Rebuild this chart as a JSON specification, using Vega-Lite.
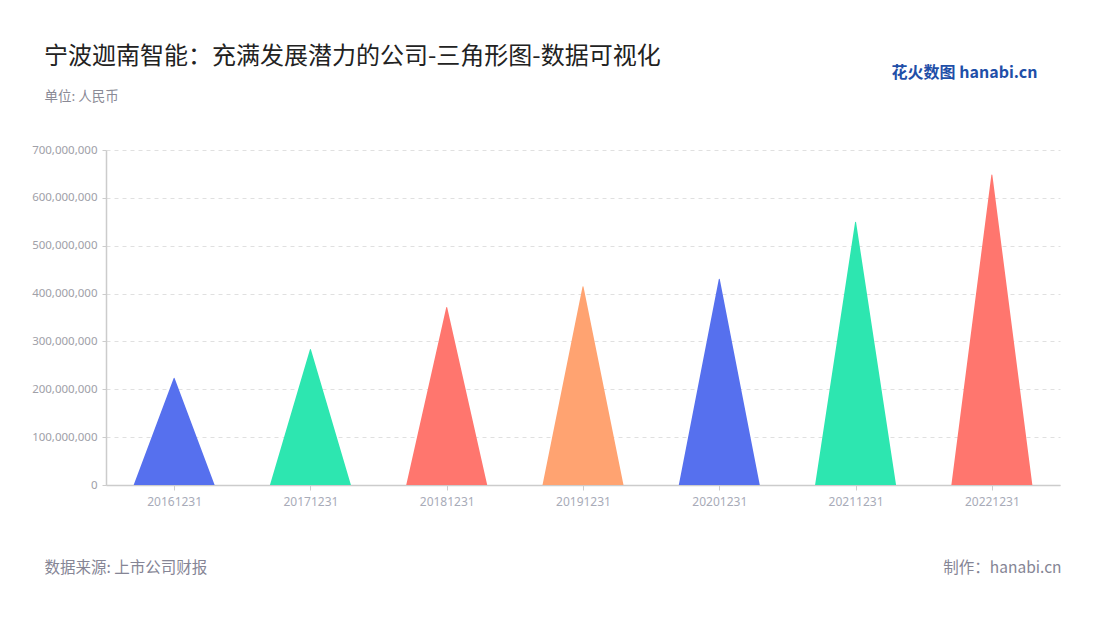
{
  "$schema": "https://vega.github.io/schema/vega-lite/v6.json",
  "width": 954,
  "height": 335,
  "autosize": {"type": "none"},
  "padding": {"left": 106, "top": 150, "right": 40, "bottom": 135},
  "background": "white",
  "config": {
    "view": {"stroke": null},
    "font": "Noto Sans CJK SC"
  },
  "title": {
    "text": "宁波迦南智能：充满发展潜力的公司-三角形图-数据可视化",
    "anchor": "start",
    "frame": "group",
    "dx": -62,
    "dy": 5,
    "offset": 0,
    "fontSize": 24,
    "fontWeight": "normal",
    "color": "#222222",
    "font": "Noto Sans CJK SC"
  },
  "data": {
    "values": [
      {"date": "20161231", "value": 223000000},
      {"date": "20171231", "value": 283000000},
      {"date": "20181231", "value": 371000000},
      {"date": "20191231", "value": 414000000},
      {"date": "20201231", "value": 430000000},
      {"date": "20211231", "value": 549000000},
      {"date": "20221231", "value": 648000000}
    ]
  },
  "layer": [
    {
      "transform": [
        {"calculate": "0", "as": "base"},
        {"fold": ["base", "value"], "as": ["end", "amount"]}
      ],
      "mark": {"type": "trail", "clip": true},
      "encoding": {
        "x": {
          "field": "date",
          "type": "ordinal",
          "sort": null,
          "scale": {"type": "point", "padding": 0.5},
          "axis": {
            "labelAngle": 0,
            "labelColor": "#a8abb8",
            "labelFont": "Noto Sans",
            "labelFontSize": 12,
            "labelPadding": 6,
            "domainColor": "#cccccc",
            "domainWidth": 1.5,
            "tickColor": "#cccccc",
            "tickSize": 5,
            "title": "数据来源: 上市公司财报",
            "titleX": -62,
            "titleY": 82,
            "titleAlign": "left",
            "titleAnchor": null,
            "titleBaseline": "middle",
            "titleFontSize": 15.5,
            "titleFontWeight": "normal",
            "titleColor": "#858595",
            "titleFont": "Noto Sans CJK SC"
          }
        },
        "y": {
          "field": "amount",
          "type": "quantitative",
          "scale": {"domain": [0, 700000000], "nice": false},
          "axis": {
            "values": [0, 100000000, 200000000, 300000000, 400000000, 500000000, 600000000, 700000000],
            "format": ",d",
            "labelColor": "#a0a0a8",
            "labelFont": "Noto Sans",
            "labelFontSize": 11.5,
            "labelPadding": 5,
            "domainColor": "#cccccc",
            "domainWidth": 1.5,
            "tickColor": "#cccccc",
            "tickSize": 4,
            "grid": true,
            "gridColor": "#e0e0e0",
            "gridDash": [4, 4],
            "gridWidth": 1,
            "title": "单位: 人民币",
            "titleAngle": 0,
            "titleX": -62,
            "titleY": -54,
            "titleAlign": "left",
            "titleAnchor": null,
            "titleBaseline": "middle",
            "titleFontSize": 13.5,
            "titleFontWeight": "normal",
            "titleColor": "#8a8a96",
            "titleFont": "Noto Sans CJK SC"
          }
        },
        "size": {
          "condition": {"test": "datum.end === 'base'", "value": 81},
          "value": 0
        },
        "color": {
          "field": "date",
          "type": "nominal",
          "scale": {
            "domain": ["20161231", "20171231", "20181231", "20191231", "20201231", "20211231", "20221231"],
            "range": ["#5670ee", "#2de6b0", "#ff766e", "#ffa371", "#5670ee", "#2de6b0", "#ff766e"]
          },
          "legend": null
        },
        "order": {"field": "end", "type": "nominal"}
      }
    },
    {
      "mark": {"type": "point", "opacity": 0},
      "encoding": {
        "x": {
          "field": "date",
          "type": "ordinal",
          "sort": null,
          "scale": {"type": "point", "padding": 0.5},
          "axis": {
            "orient": "top",
            "labels": false,
            "ticks": false,
            "domain": false,
            "title": "花火数图 hanabi.cn",
            "titleX": 931,
            "titleY": -78,
            "titleAlign": "right",
            "titleAnchor": null,
            "titleBaseline": "middle",
            "titleFontSize": 16,
            "titleFontWeight": "bold",
            "titleColor": "#1f4fa8",
            "titleFont": "Noto Sans CJK SC"
          }
        },
        "y": {
          "field": "value",
          "type": "quantitative",
          "scale": {"domain": [0, 700000000], "nice": false},
          "axis": {
            "orient": "right",
            "labels": false,
            "ticks": false,
            "domain": false,
            "grid": false,
            "title": "制作：hanabi.cn",
            "titleAngle": 0,
            "titleX": 1,
            "titleY": 417,
            "titleAlign": "right",
            "titleAnchor": null,
            "titleBaseline": "middle",
            "titleFontSize": 15.5,
            "titleFontWeight": "normal",
            "titleColor": "#858595",
            "titleFont": "Noto Sans CJK SC"
          }
        }
      }
    }
  ],
  "resolve": {"axis": {"x": "independent", "y": "independent"}}
}
